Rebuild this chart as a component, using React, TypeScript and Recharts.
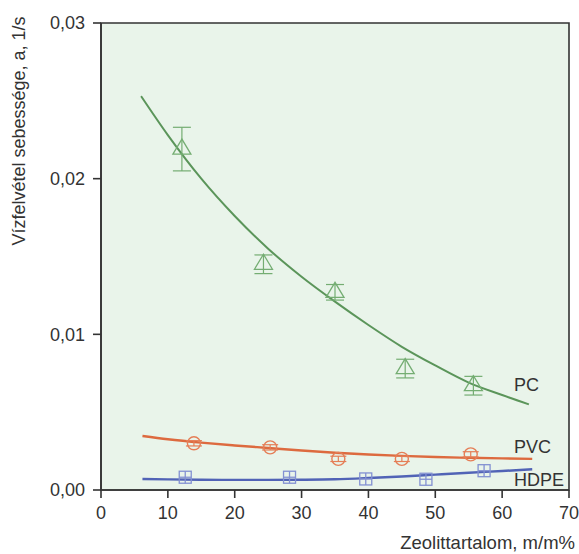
import React from 'react';
import { ComposedChart, Line, Scatter, ErrorBar, XAxis, YAxis, ReferenceArea } from 'recharts';

// measured points (x: zeolite content m/m%, y: water uptake rate 1/s)
const pcX = [12.1, 24.3, 35.0, 45.5, 55.7];
const pcY = [0.0219, 0.0145, 0.0127, 0.0078, 0.0067];
const pcErr = [0.0014, 0.0006, 0.0005, 0.0006, 0.0006];

const pvcX = [13.9, 25.3, 35.5, 45.0, 55.3];
const pvcY = [0.003, 0.00274, 0.002, 0.002, 0.00229];
const pvcErr = [0.00017, 0.00017, 0.00017, 0.00017, 0.00017];

const hdpeX = [12.6, 28.2, 39.6, 48.6, 57.3];
const hdpeY = [0.00082, 0.00082, 0.00071, 0.00069, 0.00124];

// fitted curves
const pcFitX = [6, 10, 15, 20, 25, 30, 35, 40, 45, 50, 55, 60, 64];
const pcFit = [0.0253, 0.0228, 0.02, 0.0176, 0.0155, 0.0137, 0.0121, 0.0106, 0.0092, 0.008, 0.0069, 0.0061, 0.0055];

const lowFitX = [6.2, 10, 15, 20, 25, 30, 35, 40, 45, 50, 55, 60, 64.5];
const pvcFit = [0.00347, 0.00326, 0.00304, 0.00286, 0.0027, 0.00254, 0.00239, 0.00228, 0.00219, 0.00212, 0.00207, 0.00203, 0.002];
const hdpeFit = [0.00071, 0.00068, 0.00066, 0.00065, 0.00065, 0.00066, 0.00069, 0.00077, 0.00087, 0.00099, 0.00111, 0.00122, 0.00133];

const xTicks = [0, 10, 20, 30, 40, 50, 60, 70];
const yTicks = [0, 0.01, 0.02, 0.03];

const toPts = (xs: number[], ys: number[], errs?: number[]) =>
  xs.map((x, i) => ({ x, y: ys[i], err: errs ? errs[i] : 0 }));

const FONT = '"Liberation Sans", Arial, sans-serif';
const AXIS = '#333';

const Triangle = (p: any) => (
  <polygon
    points={`${p.cx},${p.cy - 10} ${p.cx - 9},${p.cy + 5} ${p.cx + 9},${p.cy + 5}`}
    fill="none"
    stroke="#74ad72"
    strokeWidth={1.3}
  />
);

const Circle = (p: any) => (
  <circle cx={p.cx} cy={p.cy} r={6.5} fill="none" stroke="#e57e57" strokeWidth={1.4} />
);

const Square = (p: any) => (
  <g stroke="#8391d2" strokeWidth={1.3} fill="none">
    <rect x={p.cx - 6} y={p.cy - 6} width={12} height={12} />
    <line x1={p.cx - 6} y1={p.cy} x2={p.cx + 6} y2={p.cy} />
    <line x1={p.cx} y1={p.cy - 6} x2={p.cx} y2={p.cy + 6} />
  </g>
);

const fmtY = (v: number) => v.toFixed(2).replace('.', ',');

export default function App() {
  const tick = { fill: '#333', fontSize: 18, fontFamily: FONT };
  return (
    <div style={{ position: 'absolute', left: 0, top: 0, width: 579, height: 554, background: '#fff' }}>
      <ComposedChart width={579} height={554} margin={{ top: 23, right: 10, bottom: 34, left: 41 }}>
        <XAxis
          type="number"
          dataKey="x"
          domain={[0, 70]}
          ticks={xTicks}
          tickSize={8}
          tickMargin={8}
          stroke={AXIS}
          strokeWidth={1.6}
          tick={tick}
          height={30}
          allowDataOverflow
        />
        <YAxis
          type="number"
          dataKey="y"
          domain={[0, 0.03]}
          ticks={yTicks}
          tickFormatter={fmtY}
          tickSize={8}
          tickMargin={8}
          stroke={AXIS}
          strokeWidth={1.6}
          tick={tick}
          width={60}
          allowDataOverflow
        />
        <ReferenceArea x1={0} x2={70} y1={0} y2={0.03} fill="#e9f4ea" fillOpacity={1} stroke={AXIS} strokeWidth={1.6} />
        <Line data={toPts(pcFitX, pcFit)} dataKey="y" type="monotone" stroke="#5b955a" strokeWidth={2} dot={false} isAnimationActive={false} />
        <Line data={toPts(lowFitX, pvcFit)} dataKey="y" type="monotone" stroke="#dd6a3f" strokeWidth={2.4} dot={false} isAnimationActive={false} />
        <Line data={toPts(lowFitX, hdpeFit)} dataKey="y" type="monotone" stroke="#5163b6" strokeWidth={2.4} dot={false} isAnimationActive={false} />
        <Scatter data={toPts(pcX, pcY, pcErr)} dataKey="y" shape={Triangle} isAnimationActive={false}>
          <ErrorBar dataKey="err" direction="y" width={9} stroke="#74ad72" strokeWidth={1.2} />
        </Scatter>
        <Scatter data={toPts(pvcX, pvcY, pvcErr)} dataKey="y" shape={Circle} isAnimationActive={false}>
          <ErrorBar dataKey="err" direction="y" width={8} stroke="#e57e57" strokeWidth={1.2} />
        </Scatter>
        <Scatter data={toPts(hdpeX, hdpeY)} dataKey="y" shape={Square} isAnimationActive={false} />
      </ComposedChart>
      <svg width={579} height={554} style={{ position: 'absolute', left: 0, top: 0, pointerEvents: 'none' }}>
        <g fontFamily={FONT} fontSize={18} fill="#333">
          <text x={18.5} y={131} transform="rotate(-90 18.5 131)" textAnchor="middle" dominantBaseline="central">
            Vízfelvétel sebessége, a, 1/s
          </text>
          <text x={575} y={549} textAnchor="end" fontSize={18.5}>Zeolittartalom, m/m%</text>
          <text x={514} y={385} dominantBaseline="central">PC</text>
          <text x={514} y={447} dominantBaseline="central">PVC</text>
          <text x={514} y={480} dominantBaseline="central">HDPE</text>
        </g>
      </svg>
    </div>
  );
}
